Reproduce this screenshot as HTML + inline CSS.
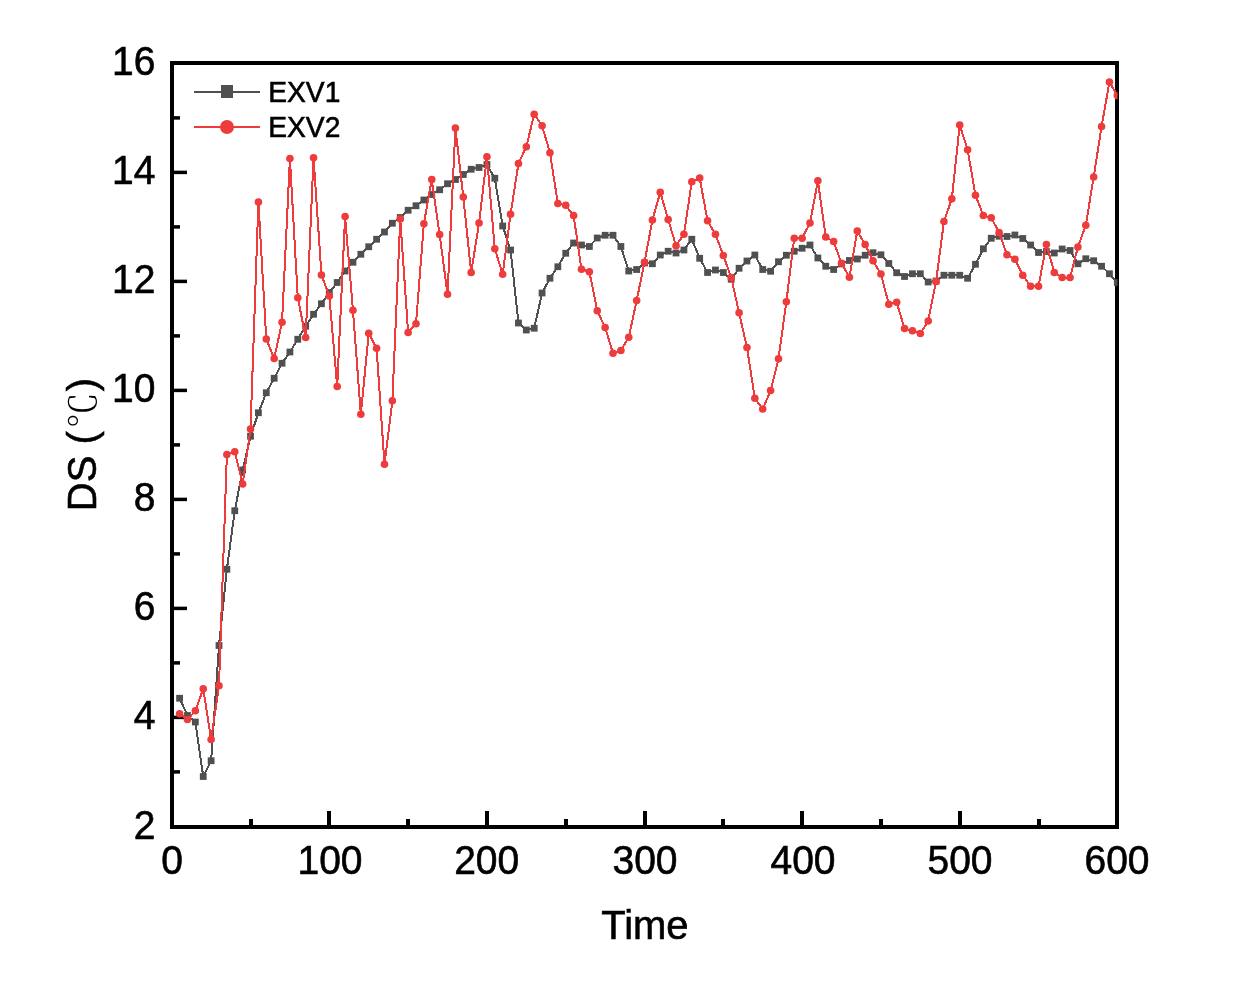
<!DOCTYPE html>
<html lang="en"><head><meta charset="utf-8"><title>DS vs Time</title>
<style>
html,body{margin:0;padding:0;background:#fff;}
svg{display:block;}
text{font-family:"Liberation Sans","Noto Sans CJK SC",sans-serif;fill:#000;stroke:#000;stroke-width:0.6px;}
.tk{font-size:39px;}
.ttl{font-size:40px;}
.lg{font-size:29.2px;}
.deg{font-family:"Liberation Serif","Noto Serif CJK SC",serif;font-weight:300;stroke-width:0;font-size:36px;}
</style></head><body>
<svg width="1240" height="982" viewBox="0 0 1240 982">
<rect x="0" y="0" width="1240" height="982" fill="#fff"/>
<rect x="172.0" y="63.0" width="945.0" height="764.0" fill="none" stroke="#000" stroke-width="4"/>
<g fill="#000"><rect x="172" y="770.15" width="8" height="3.5"/><rect x="172" y="715.65" width="15" height="3.5"/><rect x="172" y="661.15" width="8" height="3.5"/><rect x="172" y="606.65" width="15" height="3.5"/><rect x="172" y="552.15" width="8" height="3.5"/><rect x="172" y="497.65" width="15" height="3.5"/><rect x="172" y="443.15" width="8" height="3.5"/><rect x="172" y="388.65" width="15" height="3.5"/><rect x="172" y="334.15" width="8" height="3.5"/><rect x="172" y="279.65" width="15" height="3.5"/><rect x="172" y="225.15" width="8" height="3.5"/><rect x="172" y="170.65" width="15" height="3.5"/><rect x="172" y="116.15" width="8" height="3.5"/><rect x="249" y="819" width="4" height="8"/><rect x="327" y="811" width="4" height="16"/><rect x="406" y="819" width="4" height="8"/><rect x="485" y="811" width="4" height="16"/><rect x="564" y="819" width="4" height="8"/><rect x="643" y="811" width="4" height="16"/><rect x="721" y="819" width="4" height="8"/><rect x="800" y="811" width="4" height="16"/><rect x="879" y="819" width="4" height="8"/><rect x="958" y="811" width="4" height="16"/><rect x="1037" y="819" width="4" height="8"/></g>
<defs><clipPath id="pc"><rect x="172" y="63" width="945.5" height="764"/></clipPath></defs>
<g clip-path="url(#pc)">
<g id="exv1"><polyline points="179.60,698.25 187.48,715.50 195.36,722.00 203.24,776.50 211.12,760.75 219.00,645.50 226.88,569.25 234.76,510.75 242.64,470.00 250.52,436.25 258.40,412.75 266.28,392.75 274.16,378.25 282.04,363.25 289.92,352.00 297.80,339.25 305.68,326.25 313.56,314.25 321.44,303.75 329.32,292.50 337.20,282.50 345.08,271.00 352.96,262.25 360.84,254.25 368.72,246.75 376.60,239.25 384.48,232.00 392.36,223.25 400.24,217.50 408.12,210.25 416.00,205.75 423.88,200.00 431.76,194.50 439.64,189.75 447.52,183.75 455.40,179.50 463.28,174.50 471.16,169.25 479.04,167.50 486.92,164.50 494.80,178.25 502.68,226.00 510.56,250.00 518.44,323.00 526.32,330.00 534.20,328.25 542.08,293.00 549.96,278.25 557.84,266.75 565.72,253.25 573.60,243.00 581.48,245.00 589.36,246.50 597.24,238.00 605.12,235.25 613.00,235.25 620.88,246.50 628.76,271.00 636.64,269.50 644.52,263.00 652.40,263.75 660.28,255.00 668.16,251.25 676.04,253.00 683.92,250.00 691.80,239.25 699.68,258.25 707.56,272.50 715.44,270.00 723.32,272.50 731.20,279.25 739.08,268.25 746.96,261.00 754.84,255.00 762.72,269.50 770.60,271.25 778.48,261.75 786.36,255.25 794.24,251.25 802.12,248.25 810.00,245.00 817.88,258.00 825.76,266.25 833.64,269.50 841.52,264.00 849.40,260.50 857.28,259.00 865.16,255.25 873.04,252.75 880.92,254.75 888.80,263.50 896.68,272.75 904.56,276.50 912.44,273.75 920.32,273.75 928.20,282.00 936.08,281.00 943.96,275.25 951.84,275.25 959.72,275.25 967.60,278.25 975.48,264.25 983.36,248.75 991.24,238.25 999.12,236.25 1007.00,236.50 1014.88,235.00 1022.76,238.50 1030.64,245.00 1038.52,252.50 1046.40,251.50 1054.28,253.00 1062.16,249.00 1070.04,250.50 1077.92,263.75 1085.80,258.75 1093.68,260.75 1101.56,266.25 1109.44,273.75 1117.32,282.50" fill="none" stroke="#505050" stroke-width="2" stroke-linejoin="round" shape-rendering="crispEdges"/>
<rect x="176.20" y="694.85" width="6.8" height="6.8" fill="#505050"/>
<rect x="184.08" y="712.10" width="6.8" height="6.8" fill="#505050"/>
<rect x="191.96" y="718.60" width="6.8" height="6.8" fill="#505050"/>
<rect x="199.84" y="773.10" width="6.8" height="6.8" fill="#505050"/>
<rect x="207.72" y="757.35" width="6.8" height="6.8" fill="#505050"/>
<rect x="215.60" y="642.10" width="6.8" height="6.8" fill="#505050"/>
<rect x="223.48" y="565.85" width="6.8" height="6.8" fill="#505050"/>
<rect x="231.36" y="507.35" width="6.8" height="6.8" fill="#505050"/>
<rect x="239.24" y="466.60" width="6.8" height="6.8" fill="#505050"/>
<rect x="247.12" y="432.85" width="6.8" height="6.8" fill="#505050"/>
<rect x="255.00" y="409.35" width="6.8" height="6.8" fill="#505050"/>
<rect x="262.88" y="389.35" width="6.8" height="6.8" fill="#505050"/>
<rect x="270.76" y="374.85" width="6.8" height="6.8" fill="#505050"/>
<rect x="278.64" y="359.85" width="6.8" height="6.8" fill="#505050"/>
<rect x="286.52" y="348.60" width="6.8" height="6.8" fill="#505050"/>
<rect x="294.40" y="335.85" width="6.8" height="6.8" fill="#505050"/>
<rect x="302.28" y="322.85" width="6.8" height="6.8" fill="#505050"/>
<rect x="310.16" y="310.85" width="6.8" height="6.8" fill="#505050"/>
<rect x="318.04" y="300.35" width="6.8" height="6.8" fill="#505050"/>
<rect x="325.92" y="289.10" width="6.8" height="6.8" fill="#505050"/>
<rect x="333.80" y="279.10" width="6.8" height="6.8" fill="#505050"/>
<rect x="341.68" y="267.60" width="6.8" height="6.8" fill="#505050"/>
<rect x="349.56" y="258.85" width="6.8" height="6.8" fill="#505050"/>
<rect x="357.44" y="250.85" width="6.8" height="6.8" fill="#505050"/>
<rect x="365.32" y="243.35" width="6.8" height="6.8" fill="#505050"/>
<rect x="373.20" y="235.85" width="6.8" height="6.8" fill="#505050"/>
<rect x="381.08" y="228.60" width="6.8" height="6.8" fill="#505050"/>
<rect x="388.96" y="219.85" width="6.8" height="6.8" fill="#505050"/>
<rect x="396.84" y="214.10" width="6.8" height="6.8" fill="#505050"/>
<rect x="404.72" y="206.85" width="6.8" height="6.8" fill="#505050"/>
<rect x="412.60" y="202.35" width="6.8" height="6.8" fill="#505050"/>
<rect x="420.48" y="196.60" width="6.8" height="6.8" fill="#505050"/>
<rect x="428.36" y="191.10" width="6.8" height="6.8" fill="#505050"/>
<rect x="436.24" y="186.35" width="6.8" height="6.8" fill="#505050"/>
<rect x="444.12" y="180.35" width="6.8" height="6.8" fill="#505050"/>
<rect x="452.00" y="176.10" width="6.8" height="6.8" fill="#505050"/>
<rect x="459.88" y="171.10" width="6.8" height="6.8" fill="#505050"/>
<rect x="467.76" y="165.85" width="6.8" height="6.8" fill="#505050"/>
<rect x="475.64" y="164.10" width="6.8" height="6.8" fill="#505050"/>
<rect x="483.52" y="161.10" width="6.8" height="6.8" fill="#505050"/>
<rect x="491.40" y="174.85" width="6.8" height="6.8" fill="#505050"/>
<rect x="499.28" y="222.60" width="6.8" height="6.8" fill="#505050"/>
<rect x="507.16" y="246.60" width="6.8" height="6.8" fill="#505050"/>
<rect x="515.04" y="319.60" width="6.8" height="6.8" fill="#505050"/>
<rect x="522.92" y="326.60" width="6.8" height="6.8" fill="#505050"/>
<rect x="530.80" y="324.85" width="6.8" height="6.8" fill="#505050"/>
<rect x="538.68" y="289.60" width="6.8" height="6.8" fill="#505050"/>
<rect x="546.56" y="274.85" width="6.8" height="6.8" fill="#505050"/>
<rect x="554.44" y="263.35" width="6.8" height="6.8" fill="#505050"/>
<rect x="562.32" y="249.85" width="6.8" height="6.8" fill="#505050"/>
<rect x="570.20" y="239.60" width="6.8" height="6.8" fill="#505050"/>
<rect x="578.08" y="241.60" width="6.8" height="6.8" fill="#505050"/>
<rect x="585.96" y="243.10" width="6.8" height="6.8" fill="#505050"/>
<rect x="593.84" y="234.60" width="6.8" height="6.8" fill="#505050"/>
<rect x="601.72" y="231.85" width="6.8" height="6.8" fill="#505050"/>
<rect x="609.60" y="231.85" width="6.8" height="6.8" fill="#505050"/>
<rect x="617.48" y="243.10" width="6.8" height="6.8" fill="#505050"/>
<rect x="625.36" y="267.60" width="6.8" height="6.8" fill="#505050"/>
<rect x="633.24" y="266.10" width="6.8" height="6.8" fill="#505050"/>
<rect x="641.12" y="259.60" width="6.8" height="6.8" fill="#505050"/>
<rect x="649.00" y="260.35" width="6.8" height="6.8" fill="#505050"/>
<rect x="656.88" y="251.60" width="6.8" height="6.8" fill="#505050"/>
<rect x="664.76" y="247.85" width="6.8" height="6.8" fill="#505050"/>
<rect x="672.64" y="249.60" width="6.8" height="6.8" fill="#505050"/>
<rect x="680.52" y="246.60" width="6.8" height="6.8" fill="#505050"/>
<rect x="688.40" y="235.85" width="6.8" height="6.8" fill="#505050"/>
<rect x="696.28" y="254.85" width="6.8" height="6.8" fill="#505050"/>
<rect x="704.16" y="269.10" width="6.8" height="6.8" fill="#505050"/>
<rect x="712.04" y="266.60" width="6.8" height="6.8" fill="#505050"/>
<rect x="719.92" y="269.10" width="6.8" height="6.8" fill="#505050"/>
<rect x="727.80" y="275.85" width="6.8" height="6.8" fill="#505050"/>
<rect x="735.68" y="264.85" width="6.8" height="6.8" fill="#505050"/>
<rect x="743.56" y="257.60" width="6.8" height="6.8" fill="#505050"/>
<rect x="751.44" y="251.60" width="6.8" height="6.8" fill="#505050"/>
<rect x="759.32" y="266.10" width="6.8" height="6.8" fill="#505050"/>
<rect x="767.20" y="267.85" width="6.8" height="6.8" fill="#505050"/>
<rect x="775.08" y="258.35" width="6.8" height="6.8" fill="#505050"/>
<rect x="782.96" y="251.85" width="6.8" height="6.8" fill="#505050"/>
<rect x="790.84" y="247.85" width="6.8" height="6.8" fill="#505050"/>
<rect x="798.72" y="244.85" width="6.8" height="6.8" fill="#505050"/>
<rect x="806.60" y="241.60" width="6.8" height="6.8" fill="#505050"/>
<rect x="814.48" y="254.60" width="6.8" height="6.8" fill="#505050"/>
<rect x="822.36" y="262.85" width="6.8" height="6.8" fill="#505050"/>
<rect x="830.24" y="266.10" width="6.8" height="6.8" fill="#505050"/>
<rect x="838.12" y="260.60" width="6.8" height="6.8" fill="#505050"/>
<rect x="846.00" y="257.10" width="6.8" height="6.8" fill="#505050"/>
<rect x="853.88" y="255.60" width="6.8" height="6.8" fill="#505050"/>
<rect x="861.76" y="251.85" width="6.8" height="6.8" fill="#505050"/>
<rect x="869.64" y="249.35" width="6.8" height="6.8" fill="#505050"/>
<rect x="877.52" y="251.35" width="6.8" height="6.8" fill="#505050"/>
<rect x="885.40" y="260.10" width="6.8" height="6.8" fill="#505050"/>
<rect x="893.28" y="269.35" width="6.8" height="6.8" fill="#505050"/>
<rect x="901.16" y="273.10" width="6.8" height="6.8" fill="#505050"/>
<rect x="909.04" y="270.35" width="6.8" height="6.8" fill="#505050"/>
<rect x="916.92" y="270.35" width="6.8" height="6.8" fill="#505050"/>
<rect x="924.80" y="278.60" width="6.8" height="6.8" fill="#505050"/>
<rect x="932.68" y="277.60" width="6.8" height="6.8" fill="#505050"/>
<rect x="940.56" y="271.85" width="6.8" height="6.8" fill="#505050"/>
<rect x="948.44" y="271.85" width="6.8" height="6.8" fill="#505050"/>
<rect x="956.32" y="271.85" width="6.8" height="6.8" fill="#505050"/>
<rect x="964.20" y="274.85" width="6.8" height="6.8" fill="#505050"/>
<rect x="972.08" y="260.85" width="6.8" height="6.8" fill="#505050"/>
<rect x="979.96" y="245.35" width="6.8" height="6.8" fill="#505050"/>
<rect x="987.84" y="234.85" width="6.8" height="6.8" fill="#505050"/>
<rect x="995.72" y="232.85" width="6.8" height="6.8" fill="#505050"/>
<rect x="1003.60" y="233.10" width="6.8" height="6.8" fill="#505050"/>
<rect x="1011.48" y="231.60" width="6.8" height="6.8" fill="#505050"/>
<rect x="1019.36" y="235.10" width="6.8" height="6.8" fill="#505050"/>
<rect x="1027.24" y="241.60" width="6.8" height="6.8" fill="#505050"/>
<rect x="1035.12" y="249.10" width="6.8" height="6.8" fill="#505050"/>
<rect x="1043.00" y="248.10" width="6.8" height="6.8" fill="#505050"/>
<rect x="1050.88" y="249.60" width="6.8" height="6.8" fill="#505050"/>
<rect x="1058.76" y="245.60" width="6.8" height="6.8" fill="#505050"/>
<rect x="1066.64" y="247.10" width="6.8" height="6.8" fill="#505050"/>
<rect x="1074.52" y="260.35" width="6.8" height="6.8" fill="#505050"/>
<rect x="1082.40" y="255.35" width="6.8" height="6.8" fill="#505050"/>
<rect x="1090.28" y="257.35" width="6.8" height="6.8" fill="#505050"/>
<rect x="1098.16" y="262.85" width="6.8" height="6.8" fill="#505050"/>
<rect x="1106.04" y="270.35" width="6.8" height="6.8" fill="#505050"/>
<rect x="1113.92" y="279.10" width="6.8" height="6.8" fill="#505050"/></g>
<g id="exv2"><polyline points="179.60,713.75 187.48,719.50 195.36,710.75 203.24,688.75 211.12,739.50 219.00,685.75 226.88,454.50 234.76,451.75 242.64,484.00 250.52,429.00 258.40,202.00 266.28,339.00 274.16,358.50 282.04,322.25 289.92,158.50 297.80,297.75 305.68,337.50 313.56,157.75 321.44,275.00 329.32,296.00 337.20,386.50 345.08,216.50 352.96,310.25 360.84,414.25 368.72,333.25 376.60,348.25 384.48,464.25 392.36,400.75 400.24,219.00 408.12,332.50 416.00,323.75 423.88,223.75 431.76,179.50 439.64,234.50 447.52,294.25 455.40,128.00 463.28,197.00 471.16,272.50 479.04,223.00 486.92,156.75 494.80,248.75 502.68,274.25 510.56,214.25 518.44,163.50 526.32,146.75 534.20,114.25 542.08,125.75 549.96,152.75 557.84,203.50 565.72,205.25 573.60,215.50 581.48,269.25 589.36,271.75 597.24,310.75 605.12,327.50 613.00,353.25 620.88,350.50 628.76,337.25 636.64,300.50 644.52,262.25 652.40,220.00 660.28,192.25 668.16,219.50 676.04,245.75 683.92,234.25 691.80,181.75 699.68,178.00 707.56,220.75 715.44,234.25 723.32,255.50 731.20,277.50 739.08,312.75 746.96,347.50 754.84,398.25 762.72,409.00 770.60,390.50 778.48,358.75 786.36,301.75 794.24,238.25 802.12,238.25 810.00,223.00 817.88,180.75 825.76,237.00 833.64,241.50 841.52,263.25 849.40,277.25 857.28,231.00 865.16,244.50 873.04,260.75 880.92,274.00 888.80,304.25 896.68,302.25 904.56,328.50 912.44,330.75 920.32,333.50 928.20,321.00 936.08,281.50 943.96,221.50 951.84,198.75 959.72,125.00 967.60,149.75 975.48,195.25 983.36,215.50 991.24,217.75 999.12,232.50 1007.00,254.75 1014.88,259.25 1022.76,275.25 1030.64,286.25 1038.52,286.25 1046.40,244.50 1054.28,272.50 1062.16,277.50 1070.04,277.50 1077.92,247.00 1085.80,225.25 1093.68,177.00 1101.56,126.50 1109.44,82.00 1117.32,95.60" fill="none" stroke="#ee3b3b" stroke-width="2" stroke-linejoin="round" shape-rendering="crispEdges"/>
<circle cx="179.60" cy="713.75" r="3.8" fill="#ee3b3b"/>
<circle cx="187.48" cy="719.50" r="3.8" fill="#ee3b3b"/>
<circle cx="195.36" cy="710.75" r="3.8" fill="#ee3b3b"/>
<circle cx="203.24" cy="688.75" r="3.8" fill="#ee3b3b"/>
<circle cx="211.12" cy="739.50" r="3.8" fill="#ee3b3b"/>
<circle cx="219.00" cy="685.75" r="3.8" fill="#ee3b3b"/>
<circle cx="226.88" cy="454.50" r="3.8" fill="#ee3b3b"/>
<circle cx="234.76" cy="451.75" r="3.8" fill="#ee3b3b"/>
<circle cx="242.64" cy="484.00" r="3.8" fill="#ee3b3b"/>
<circle cx="250.52" cy="429.00" r="3.8" fill="#ee3b3b"/>
<circle cx="258.40" cy="202.00" r="3.8" fill="#ee3b3b"/>
<circle cx="266.28" cy="339.00" r="3.8" fill="#ee3b3b"/>
<circle cx="274.16" cy="358.50" r="3.8" fill="#ee3b3b"/>
<circle cx="282.04" cy="322.25" r="3.8" fill="#ee3b3b"/>
<circle cx="289.92" cy="158.50" r="3.8" fill="#ee3b3b"/>
<circle cx="297.80" cy="297.75" r="3.8" fill="#ee3b3b"/>
<circle cx="305.68" cy="337.50" r="3.8" fill="#ee3b3b"/>
<circle cx="313.56" cy="157.75" r="3.8" fill="#ee3b3b"/>
<circle cx="321.44" cy="275.00" r="3.8" fill="#ee3b3b"/>
<circle cx="329.32" cy="296.00" r="3.8" fill="#ee3b3b"/>
<circle cx="337.20" cy="386.50" r="3.8" fill="#ee3b3b"/>
<circle cx="345.08" cy="216.50" r="3.8" fill="#ee3b3b"/>
<circle cx="352.96" cy="310.25" r="3.8" fill="#ee3b3b"/>
<circle cx="360.84" cy="414.25" r="3.8" fill="#ee3b3b"/>
<circle cx="368.72" cy="333.25" r="3.8" fill="#ee3b3b"/>
<circle cx="376.60" cy="348.25" r="3.8" fill="#ee3b3b"/>
<circle cx="384.48" cy="464.25" r="3.8" fill="#ee3b3b"/>
<circle cx="392.36" cy="400.75" r="3.8" fill="#ee3b3b"/>
<circle cx="400.24" cy="219.00" r="3.8" fill="#ee3b3b"/>
<circle cx="408.12" cy="332.50" r="3.8" fill="#ee3b3b"/>
<circle cx="416.00" cy="323.75" r="3.8" fill="#ee3b3b"/>
<circle cx="423.88" cy="223.75" r="3.8" fill="#ee3b3b"/>
<circle cx="431.76" cy="179.50" r="3.8" fill="#ee3b3b"/>
<circle cx="439.64" cy="234.50" r="3.8" fill="#ee3b3b"/>
<circle cx="447.52" cy="294.25" r="3.8" fill="#ee3b3b"/>
<circle cx="455.40" cy="128.00" r="3.8" fill="#ee3b3b"/>
<circle cx="463.28" cy="197.00" r="3.8" fill="#ee3b3b"/>
<circle cx="471.16" cy="272.50" r="3.8" fill="#ee3b3b"/>
<circle cx="479.04" cy="223.00" r="3.8" fill="#ee3b3b"/>
<circle cx="486.92" cy="156.75" r="3.8" fill="#ee3b3b"/>
<circle cx="494.80" cy="248.75" r="3.8" fill="#ee3b3b"/>
<circle cx="502.68" cy="274.25" r="3.8" fill="#ee3b3b"/>
<circle cx="510.56" cy="214.25" r="3.8" fill="#ee3b3b"/>
<circle cx="518.44" cy="163.50" r="3.8" fill="#ee3b3b"/>
<circle cx="526.32" cy="146.75" r="3.8" fill="#ee3b3b"/>
<circle cx="534.20" cy="114.25" r="3.8" fill="#ee3b3b"/>
<circle cx="542.08" cy="125.75" r="3.8" fill="#ee3b3b"/>
<circle cx="549.96" cy="152.75" r="3.8" fill="#ee3b3b"/>
<circle cx="557.84" cy="203.50" r="3.8" fill="#ee3b3b"/>
<circle cx="565.72" cy="205.25" r="3.8" fill="#ee3b3b"/>
<circle cx="573.60" cy="215.50" r="3.8" fill="#ee3b3b"/>
<circle cx="581.48" cy="269.25" r="3.8" fill="#ee3b3b"/>
<circle cx="589.36" cy="271.75" r="3.8" fill="#ee3b3b"/>
<circle cx="597.24" cy="310.75" r="3.8" fill="#ee3b3b"/>
<circle cx="605.12" cy="327.50" r="3.8" fill="#ee3b3b"/>
<circle cx="613.00" cy="353.25" r="3.8" fill="#ee3b3b"/>
<circle cx="620.88" cy="350.50" r="3.8" fill="#ee3b3b"/>
<circle cx="628.76" cy="337.25" r="3.8" fill="#ee3b3b"/>
<circle cx="636.64" cy="300.50" r="3.8" fill="#ee3b3b"/>
<circle cx="644.52" cy="262.25" r="3.8" fill="#ee3b3b"/>
<circle cx="652.40" cy="220.00" r="3.8" fill="#ee3b3b"/>
<circle cx="660.28" cy="192.25" r="3.8" fill="#ee3b3b"/>
<circle cx="668.16" cy="219.50" r="3.8" fill="#ee3b3b"/>
<circle cx="676.04" cy="245.75" r="3.8" fill="#ee3b3b"/>
<circle cx="683.92" cy="234.25" r="3.8" fill="#ee3b3b"/>
<circle cx="691.80" cy="181.75" r="3.8" fill="#ee3b3b"/>
<circle cx="699.68" cy="178.00" r="3.8" fill="#ee3b3b"/>
<circle cx="707.56" cy="220.75" r="3.8" fill="#ee3b3b"/>
<circle cx="715.44" cy="234.25" r="3.8" fill="#ee3b3b"/>
<circle cx="723.32" cy="255.50" r="3.8" fill="#ee3b3b"/>
<circle cx="731.20" cy="277.50" r="3.8" fill="#ee3b3b"/>
<circle cx="739.08" cy="312.75" r="3.8" fill="#ee3b3b"/>
<circle cx="746.96" cy="347.50" r="3.8" fill="#ee3b3b"/>
<circle cx="754.84" cy="398.25" r="3.8" fill="#ee3b3b"/>
<circle cx="762.72" cy="409.00" r="3.8" fill="#ee3b3b"/>
<circle cx="770.60" cy="390.50" r="3.8" fill="#ee3b3b"/>
<circle cx="778.48" cy="358.75" r="3.8" fill="#ee3b3b"/>
<circle cx="786.36" cy="301.75" r="3.8" fill="#ee3b3b"/>
<circle cx="794.24" cy="238.25" r="3.8" fill="#ee3b3b"/>
<circle cx="802.12" cy="238.25" r="3.8" fill="#ee3b3b"/>
<circle cx="810.00" cy="223.00" r="3.8" fill="#ee3b3b"/>
<circle cx="817.88" cy="180.75" r="3.8" fill="#ee3b3b"/>
<circle cx="825.76" cy="237.00" r="3.8" fill="#ee3b3b"/>
<circle cx="833.64" cy="241.50" r="3.8" fill="#ee3b3b"/>
<circle cx="841.52" cy="263.25" r="3.8" fill="#ee3b3b"/>
<circle cx="849.40" cy="277.25" r="3.8" fill="#ee3b3b"/>
<circle cx="857.28" cy="231.00" r="3.8" fill="#ee3b3b"/>
<circle cx="865.16" cy="244.50" r="3.8" fill="#ee3b3b"/>
<circle cx="873.04" cy="260.75" r="3.8" fill="#ee3b3b"/>
<circle cx="880.92" cy="274.00" r="3.8" fill="#ee3b3b"/>
<circle cx="888.80" cy="304.25" r="3.8" fill="#ee3b3b"/>
<circle cx="896.68" cy="302.25" r="3.8" fill="#ee3b3b"/>
<circle cx="904.56" cy="328.50" r="3.8" fill="#ee3b3b"/>
<circle cx="912.44" cy="330.75" r="3.8" fill="#ee3b3b"/>
<circle cx="920.32" cy="333.50" r="3.8" fill="#ee3b3b"/>
<circle cx="928.20" cy="321.00" r="3.8" fill="#ee3b3b"/>
<circle cx="936.08" cy="281.50" r="3.8" fill="#ee3b3b"/>
<circle cx="943.96" cy="221.50" r="3.8" fill="#ee3b3b"/>
<circle cx="951.84" cy="198.75" r="3.8" fill="#ee3b3b"/>
<circle cx="959.72" cy="125.00" r="3.8" fill="#ee3b3b"/>
<circle cx="967.60" cy="149.75" r="3.8" fill="#ee3b3b"/>
<circle cx="975.48" cy="195.25" r="3.8" fill="#ee3b3b"/>
<circle cx="983.36" cy="215.50" r="3.8" fill="#ee3b3b"/>
<circle cx="991.24" cy="217.75" r="3.8" fill="#ee3b3b"/>
<circle cx="999.12" cy="232.50" r="3.8" fill="#ee3b3b"/>
<circle cx="1007.00" cy="254.75" r="3.8" fill="#ee3b3b"/>
<circle cx="1014.88" cy="259.25" r="3.8" fill="#ee3b3b"/>
<circle cx="1022.76" cy="275.25" r="3.8" fill="#ee3b3b"/>
<circle cx="1030.64" cy="286.25" r="3.8" fill="#ee3b3b"/>
<circle cx="1038.52" cy="286.25" r="3.8" fill="#ee3b3b"/>
<circle cx="1046.40" cy="244.50" r="3.8" fill="#ee3b3b"/>
<circle cx="1054.28" cy="272.50" r="3.8" fill="#ee3b3b"/>
<circle cx="1062.16" cy="277.50" r="3.8" fill="#ee3b3b"/>
<circle cx="1070.04" cy="277.50" r="3.8" fill="#ee3b3b"/>
<circle cx="1077.92" cy="247.00" r="3.8" fill="#ee3b3b"/>
<circle cx="1085.80" cy="225.25" r="3.8" fill="#ee3b3b"/>
<circle cx="1093.68" cy="177.00" r="3.8" fill="#ee3b3b"/>
<circle cx="1101.56" cy="126.50" r="3.8" fill="#ee3b3b"/>
<circle cx="1109.44" cy="82.00" r="3.8" fill="#ee3b3b"/>
<circle cx="1117.32" cy="95.60" r="3.8" fill="#ee3b3b"/></g>
</g>
<text class="tk" transform="translate(155.4 839.40) scale(1 1.05)" text-anchor="end">2</text>
<text class="tk" transform="translate(155.4 729.40) scale(1 1.05)" text-anchor="end">4</text>
<text class="tk" transform="translate(155.4 619.70) scale(1 1.05)" text-anchor="end">6</text>
<text class="tk" transform="translate(155.4 510.90) scale(1 1.05)" text-anchor="end">8</text>
<text class="tk" transform="translate(155.4 402.40) scale(1 1.05)" text-anchor="end">10</text>
<text class="tk" transform="translate(155.4 293.40) scale(1 1.05)" text-anchor="end">12</text>
<text class="tk" transform="translate(155.4 184.40) scale(1 1.05)" text-anchor="end">14</text>
<text class="tk" transform="translate(155.4 75.40) scale(1 1.05)" text-anchor="end">16</text>
<text class="tk" transform="translate(172 873.7) scale(1 1.05)" text-anchor="middle">0</text>
<text class="tk" transform="translate(330 873.7) scale(1 1.05)" text-anchor="middle">100</text>
<text class="tk" transform="translate(486.7 873.7) scale(1 1.05)" text-anchor="middle">200</text>
<text class="tk" transform="translate(645 873.7) scale(1 1.05)" text-anchor="middle">300</text>
<text class="tk" transform="translate(803 873.7) scale(1 1.05)" text-anchor="middle">400</text>
<text class="tk" transform="translate(960 873.7) scale(1 1.05)" text-anchor="middle">500</text>
<text class="tk" transform="translate(1117 873.7) scale(1 1.05)" text-anchor="middle">600</text>
<text class="ttl" transform="translate(644.9 939.1) scale(1 1.025)" text-anchor="middle">Time</text>
<text class="ttl" transform="translate(95.8 444.5) rotate(-90) scale(1 1.025)" text-anchor="middle">DS (<tspan class="deg" dx="3">℃</tspan><tspan dx="1">)</tspan></text>
<rect x="194" y="91" width="66" height="2" fill="#505050"/><rect x="221" y="85" width="12" height="13" fill="#505050"/>
<rect x="194" y="126" width="66" height="2" fill="#ee3b3b"/><circle cx="227" cy="127" r="7" fill="#ee3b3b"/>
<text class="lg" transform="translate(268.3 101.9) scale(0.965 1.04)">EXV1</text>
<text class="lg" transform="translate(268.3 137) scale(0.965 1.04)">EXV2</text>
</svg></body></html>
